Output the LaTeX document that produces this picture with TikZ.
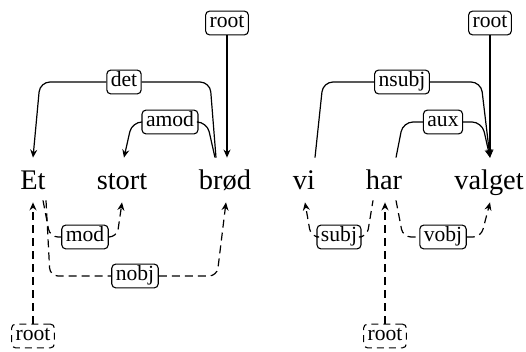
\documentclass[tikz,border=0pt]{standalone}
\usepackage{fontspec}
\setmainfont{Liberation Serif}
\usetikzlibrary{positioning, arrows.meta, calc}
\tikzset{
  word/.style={anchor=base, inner xsep=0pt, inner ysep=6pt, text height=10pt, text depth=0pt, font=\fontsize{14.2}{16}\selectfont},
  deplabel/.style={draw, rounded corners=2pt, fill=white, line width=0.55pt, inner xsep=2pt, inner ysep=1.2pt, text height=7.2pt, text depth=2.3pt, font=\fontsize{10.8}{12}\selectfont},
  rootlabel/.style={deplabel, dash pattern=on 3.5pt off 2.5pt},
  deparc/.style={line width=0.6pt, rounded corners=5pt},
  lowdeparc/.style={deparc, rounded corners=4pt, dash pattern=on 4pt off 2.5pt},
  arrow/.style={-{Stealth[length=4pt,width=3.5pt]}}
}
\begin{document}
\begin{tikzpicture}[x=0.5pt, y=-0.5pt]
    \useasboundingbox (0,0) rectangle (526,352);
    % --- words ---
    \node (et) [word] at (33,190) {Et};
    \node (stort) [word] at (122,190) {stort};
    \node (brod) [word] at (225,190) {brød};
    \node (vi) [word] at (304,190) {vi};
    \node (har) [word] at (384,190) {har};
    \node (valget) [word] at (489,190) {valget};

    % --- labels ---
    \node (root1) [deplabel] at (227,23) {root};
    \node (det) [deplabel] at (124,82) {det};
    \node (amod) [deplabel] at (170,122) {amod};
    \node (mod) [deplabel] at (85,237) {mod};
    \node (nobj) [deplabel] at (135,276) {nobj};
    \node (root2) [rootlabel] at (33,336) {root};
    \node (root3) [deplabel] at (490,23) {root};
    \node (nsubj) [deplabel] at (402,82) {nsubj};
    \node (aux) [deplabel] at (443,122) {aux};
    \node (subj) [deplabel] at (339,237) {subj};
    \node (vobj) [deplabel] at (443,237) {vobj};
    \node (root4) [rootlabel] at (385,336) {root};

    % --- arcs above: Et stort brød ---
    \draw [deparc, arrow] (det.west) -- ([shift={(7,0)}]et.north |- det.west) -- (et.north);
    \draw [deparc] (det.east) -- ([shift={(-15,0)}]brod.north |- det.east) -- ([shift={(-9,0)}]brod.north);
    \draw [deparc, arrow] (amod.west) -- ([shift={(10,0)}]stort.north |- amod.west) -- ([shift={(2,0)}]stort.north);
    \draw [deparc] (amod.east) -- ([shift={(-18,0)}]brod.north |- amod.east) -- ([shift={(-10,0)}]brod.north);
    \draw [deparc, arrow] (root1) -- (root1 |- brod.north);

    % --- arcs above: vi har valget ---
    \draw [deparc] (nsubj.west) -- ([shift={(19,0)}]vi.north |- nsubj.west) -- ([shift={(11,0)}]vi.north);
    \draw [deparc, arrow] (nsubj.east) -- ([shift={(-8,0)}]valget.north |- nsubj.east) -- ([shift={(1,0)}]valget.north);
    \draw [deparc] (aux.west) -- ([shift={(19,0)}]har.north |- aux.west) -- ([shift={(12,0)}]har.north);
    \draw [deparc, arrow] (aux.east) -- ([shift={(-7,0)}]valget.north |- aux.east) -- ([shift={(1,0)}]valget.north);
    \draw [deparc, arrow] (root3) -- (root3 |- valget.north);

    % --- dashed arcs below ---
    \draw [lowdeparc] ([shift={(10,-2)}]et.south) -- ([shift={(17,0)}]et.south |- mod.west) -- (mod.west);
    \draw [lowdeparc, arrow] (mod.east) -- ([shift={(-5,0)}]stort.south |- mod.east) -- (stort.south);
    \draw [lowdeparc] ([shift={(13,-2)}]et.south) -- ([shift={(17,0)}]et.south |- nobj.west) -- (nobj.west);
    \draw [lowdeparc, arrow] (nobj.east) -- ([shift={(-8,0)}]brod.south |- nobj.east) -- ([shift={(1,0)}]brod.south);
    \draw [lowdeparc, arrow] (root2) -- (root2 |- et.south);

    \draw [lowdeparc, arrow] (subj.west) -- ([shift={(7,0)}]vi.south |- subj.west) -- ([shift={(1,0)}]vi.south);
    \draw [lowdeparc] (subj.east) -- ([shift={(-17,0)}]har.south |- subj.east) -- ([shift={(-11,-2)}]har.south);
    \draw [lowdeparc] ([shift={(12,-2)}]har.south) -- ([shift={(19,0)}]har.south |- vobj.west) -- (vobj.west);
    \draw [lowdeparc, arrow] (vobj.east) -- ([shift={(-8,0)}]valget.south |- vobj.east) -- ([shift={(1,0)}]valget.south);
    \draw [lowdeparc, arrow] (root4) -- (root4 |- har.south);
\end{tikzpicture}
\end{document}
